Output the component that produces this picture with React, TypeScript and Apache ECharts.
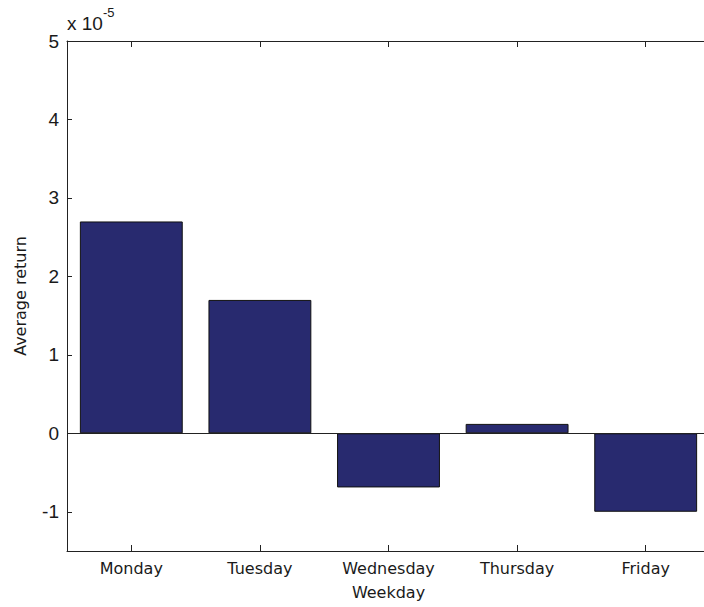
import React, { useEffect, useRef } from "react";
import * as echarts from "echarts";

const categories = ["Monday", "Tuesday", "Wednesday", "Thursday", "Friday"];
const averageReturn = [2.7, 1.7, -0.69, 0.12, -1.0]; // in units of 1e-5
const yTickValues = [-1, 0, 1, 2, 3, 4, 5];
const yMin = -1.5;
const yMax = 5;
const exponentBase = "x 10";
const exponentPower = "-5";
const xAxisTitle = "Weekday";
const yAxisTitle = "Average return";

export default function App() {
  const ref = useRef<HTMLDivElement>(null);

  useEffect(() => {
    document.body.style.margin = "0";
    if (!ref.current) return;
    const chart = echarts.init(ref.current, null, { renderer: "svg" });
    const axisColor = "#222222";
    const textColor = "#1a1a1a";
    chart.setOption({
      animation: false,
      backgroundColor: "#ffffff",
      grid: { left: 67, top: 41, width: 643, height: 510, containLabel: false },
      xAxis: [
        {
          type: "category",
          data: categories,
          position: "bottom",
          axisLine: { onZero: false, lineStyle: { color: axisColor, width: 1 } },
          axisTick: { show: true, inside: true, length: 6, alignWithLabel: true, lineStyle: { color: axisColor } },
          axisLabel: {
            margin: 9,
            color: textColor,
            fontFamily: "DejaVu Sans",
            fontSize: 16,
            interval: 0,
          },
          name: xAxisTitle,
          nameLocation: "middle",
          nameGap: 33,
          nameTextStyle: { color: textColor, fontFamily: "DejaVu Sans", fontSize: 16 },
          splitLine: { show: false },
        },
        {
          type: "category",
          data: categories,
          position: "top",
          axisLine: { onZero: false, lineStyle: { color: axisColor, width: 1 } },
          axisTick: { show: true, inside: true, length: 6, alignWithLabel: true, lineStyle: { color: axisColor } },
          axisLabel: { show: false },
          splitLine: { show: false },
        },
      ],
      yAxis: [
        {
          type: "value",
          min: yMin,
          max: yMax,
          position: "left",
          axisLine: { show: true, onZero: false, lineStyle: { color: axisColor, width: 1 } },
          axisTick: { show: true, inside: true, length: 5, customValues: yTickValues, lineStyle: { color: axisColor } },
          axisLabel: {
            customValues: yTickValues,
            margin: 8,
            color: textColor,
            fontFamily: "Liberation Sans",
            fontSize: 19,
            formatter: (v: number) => String(v),
          },
          splitLine: { show: false },
          name: yAxisTitle,
          nameLocation: "middle",
          nameRotate: 90,
          nameGap: 39,
          nameTextStyle: { color: textColor, fontFamily: "DejaVu Sans", fontSize: 16 },
        },
        {
          type: "value",
          min: yMin,
          max: yMax,
          position: "right",
          axisLine: { show: true, onZero: false, lineStyle: { color: axisColor, width: 1 } },
          axisTick: { show: true, inside: true, length: 5, customValues: yTickValues, lineStyle: { color: axisColor } },
          axisLabel: { show: false },
          splitLine: { show: false },
        },
      ],
      graphic: [
        {
          type: "text",
          left: 67,
          top: 14,
          style: {
            text: exponentBase,
            fill: textColor,
            font: "19px 'Liberation Sans'",
          },
        },
        {
          type: "text",
          left: 103,
          top: 6,
          style: {
            text: exponentPower,
            fill: textColor,
            font: "13px 'Liberation Sans'",
          },
        },
      ],
      series: [
        {
          type: "bar",
          xAxisIndex: 0,
          yAxisIndex: 0,
          data: averageReturn,
          barWidth: "80%",
          itemStyle: { color: "#282a6f", borderColor: "#111111", borderWidth: 1 },
          markLine: {
            silent: true,
            symbol: "none",
            label: { show: false },
            lineStyle: { color: axisColor, type: "solid", width: 1 },
            data: [{ yAxis: 0 }],
          },
        },
      ],
    });
    return () => chart.dispose();
  }, []);

  return (
    <div style={{ width: 704, height: 607, overflow: "hidden", position: "relative" }}>
      <div ref={ref} style={{ width: 720, height: 607 }} />
    </div>
  );
}
